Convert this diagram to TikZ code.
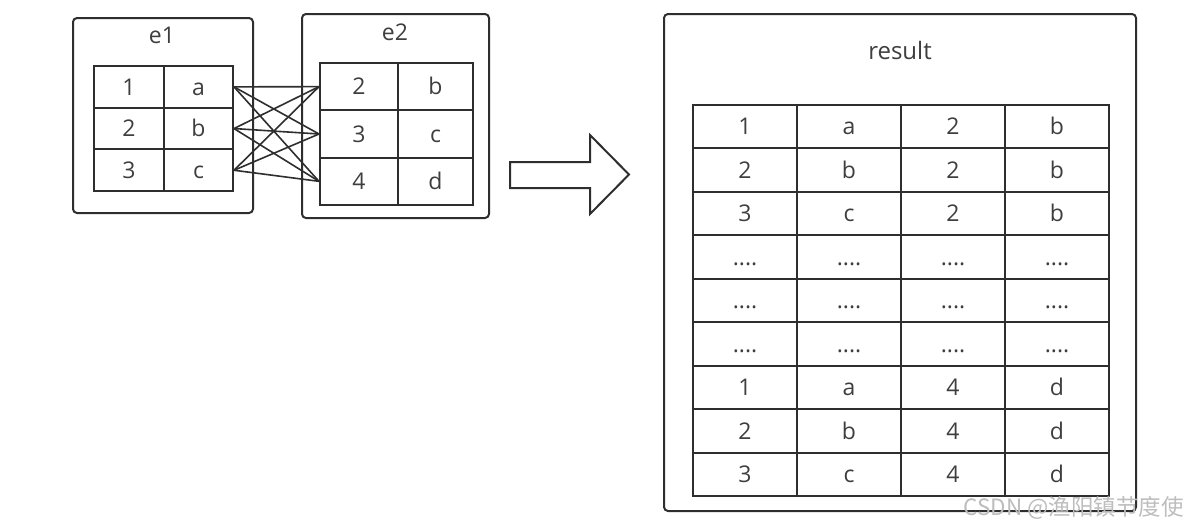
\documentclass[tikz,border=0pt]{standalone}
\usepackage{fontspec}
\setmainfont{Open Sans}
\newfontfamily\cjk{Noto Sans CJK SC}
\usepackage{xcolor}
\usepackage{tikz}
\usetikzlibrary{positioning,calc}
\definecolor{linec}{HTML}{2E2E2E}
\definecolor{textc}{HTML}{3E3E3E}
\definecolor{markc}{HTML}{BDBDBD}
\newcommand{\gap}{{.}{.}{.}{.}}

\begin{document}
\begin{tikzpicture}[x=1pt, y=-1pt, font=\fontsize{23}{27}\selectfont,
        cell/.style={draw=linec, line width=2pt, inner sep=0pt, text=textc, text height=16.4pt, text depth=0pt},
        frame/.style={draw=linec, line width=2pt, rounded corners=4pt, inner sep=0pt},
        link/.style={draw=linec, line width=1.6pt}]
        \useasboundingbox (0,0) rectangle (1186,528);

        % Table e1
        \node[frame, minimum width=180pt, minimum height=195pt] (e1box) at (163,115.5) {};
        \node[text=textc] (e1label) at (162,35) {e1};
        \foreach \n/\v [count=\i] in {1/a, 2/b, 3/c} {
            \node[cell, minimum width=70pt, minimum height=41.7pt] (e1n\i) at (129,45.15+41.7*\i) {\n};
            \node[cell, minimum width=69pt, minimum height=41.7pt] (e1v\i) at (198.5,45.15+41.7*\i) {\v};
        }

        % Table e2
        \node[frame, minimum width=187pt, minimum height=204pt] (e2box) at (395.5,116) {};
        \node[text=textc] (e2label) at (395,32) {e2};
        \foreach \n/\v [count=\i] in {2/b, 3/c, 4/d} {
            \node[cell, minimum width=78pt, minimum height=47.33pt] (e2n\i) at (359,39.33+47.33*\i) {\n};
            \node[cell, minimum width=75pt, minimum height=47.33pt] (e2v\i) at (435.5,39.33+47.33*\i) {\v};
        }

        % Every row of e1 meets every row of e2
        \foreach \i in {1,2,3}
            \foreach \j in {1,2,3}
                \draw[link] (e1v\i.east) -- (e2n\j.west);

        % Block arrow
        \draw[draw=linec, line width=2pt, line join=miter] (510,162) -- (590,162) -- (590,135) -- (629,174.5)
            -- (590,214) -- (590,188) -- (510,188) -- cycle;

        % Result table
        \node[frame, minimum width=472pt, minimum height=497pt] (resbox) at (900,262.5) {};
        \node[text=textc, font=\fontsize{24}{28}\selectfont] (reslabel) at (900,50) {result};
        \foreach \a/\b/\c/\d [count=\i] in {1/a/2/b, 2/b/2/b, 3/c/2/b, \gap/\gap/\gap/\gap, \gap/\gap/\gap/\gap,
                \gap/\gap/\gap/\gap, 1/a/4/d, 2/b/4/d, 3/c/4/d} {
            \node[cell, minimum width=104pt, minimum height=43.44pt] (r\i a) at (745,83.28+43.44*\i) {\a};
            \node[cell, minimum width=104pt, minimum height=43.44pt] (r\i b) at (849,83.28+43.44*\i) {\b};
            \node[cell, minimum width=104pt, minimum height=43.44pt] (r\i c) at (953,83.28+43.44*\i) {\c};
            \node[cell, minimum width=104pt, minimum height=43.44pt] (r\i d) at (1057,83.28+43.44*\i) {\d};
        }

        \node[font=\cjk\fontsize{22.5}{26}\selectfont, text=markc, anchor=east, inner sep=0pt] (mark) at (1184,508) {CSDN @渔阳镇节度使};
    \end{tikzpicture}
\end{document}
